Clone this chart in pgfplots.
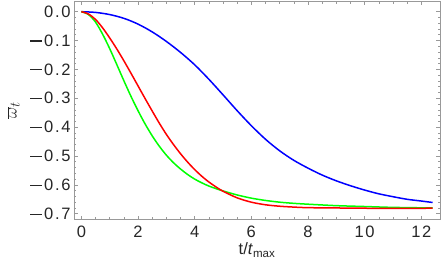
\documentclass[border=0pt]{standalone}
\usepackage{pgfplots}
\pgfplotsset{compat=1.18}
\usepackage{fontspec}
\setmainfont{Liberation Sans}
\newfontfamily\tickfont[LetterSpace=10]{Liberation Sans}
\newcommand\mm{\rule[0.28em]{0.7em}{0.07em}\hspace{0.14em}}
\begin{document}
\begin{tikzpicture}
\path[use as bounding box] (-74pt,-54pt) rectangle (368pt,219.5pt);
\begin{axis}[
  at={(0,0)}, anchor=south west,
  scale only axis, width=366pt, height=218.5pt,
  xmin=-0.26, xmax=12.66, ymin=-0.72, ymax=0.037,
  xtick={0,2,4,6,8,10,12},
  xticklabels={0,2,4,6,8,10,12},
  ytick={-0.7,-0.6,-0.5,-0.4,-0.3,-0.2,-0.1,0},
  yticklabels={\mm0.7,\mm0.6,\mm0.5,\mm0.4,\mm0.3,\mm0.2,\mm0.1,0.0},
  minor x tick num=3, minor y tick num=4,
  tick align=inside,
  major tick length=4pt, minor tick length=2.5pt,
  axis line style={draw=black!40, line width=0.8pt},
  every tick/.style={draw=black!40, line width=0.6pt},
  tick label style={font=\tickfont\fontsize{16.5}{16.5}\selectfont, text=black!85},
  xticklabel style={yshift=-3pt},
  xlabel={t/\textit{t}\textsubscript{max}},
  ylabel={$\overline{\omega}_t$},
  label style={font=\fontsize{16.5}{16.5}\selectfont, text=black!85},
  xlabel style={yshift=2pt},
  ylabel style={font=\fontsize{19}{19}\selectfont, yshift=4pt},
  every axis plot/.style={line width=1.5pt, smooth},
]
\addplot[blue] coordinates {
(0,0) (0.5,-0.0025) (1,-0.010) (1.5,-0.023) (2,-0.043) (2.5,-0.070) (3,-0.103)
(3.5,-0.141) (4,-0.184) (4.5,-0.234) (5,-0.288) (5.5,-0.343) (6,-0.395)
(6.5,-0.442) (7,-0.482) (7.5,-0.515) (8,-0.542) (8.5,-0.566) (9,-0.586)
(9.5,-0.603) (10,-0.618) (10.5,-0.631) (11,-0.641) (11.5,-0.650) (12,-0.656) (12.4,-0.661)
};
\addplot[green] coordinates {
(0,0) (0.25,-0.010) (0.5,-0.036) (0.75,-0.078) (1,-0.128) (1.25,-0.183)
(1.5,-0.239) (1.75,-0.293) (2,-0.343) (2.25,-0.389) (2.5,-0.430) (2.75,-0.466)
(3,-0.497) (3.25,-0.523) (3.5,-0.545) (3.75,-0.564) (4,-0.580) (4.25,-0.593)
(4.5,-0.604) (4.75,-0.613) (5,-0.621) (5.5,-0.635) (6,-0.646) (6.5,-0.654)
(7,-0.660) (7.5,-0.664) (8,-0.667) (9,-0.672) (10,-0.675) (11,-0.678) (12.4,-0.680)
};
\addplot[red] coordinates {
(0,0) (0.25,-0.008) (0.5,-0.027) (0.75,-0.056) (1,-0.091) (1.25,-0.129)
(1.5,-0.170) (1.75,-0.213) (2,-0.257) (2.25,-0.301) (2.5,-0.344) (2.75,-0.386)
(3,-0.425) (3.25,-0.460) (3.5,-0.492) (3.75,-0.521) (4,-0.547) (4.25,-0.570)
(4.5,-0.590) (4.75,-0.607) (5,-0.622) (5.5,-0.645) (6,-0.660) (6.5,-0.669)
(7,-0.674) (7.5,-0.677) (8,-0.679) (9,-0.680) (10,-0.681) (12.4,-0.681)
};
\end{axis}
\end{tikzpicture}
\end{document}
